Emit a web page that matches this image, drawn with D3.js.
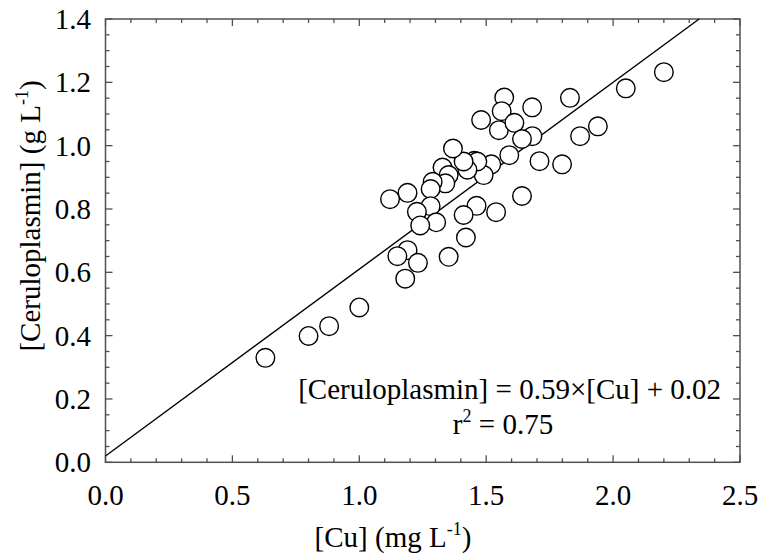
<!DOCTYPE html>
<html>
<head>
<meta charset="utf-8">
<script src="https://cdn.jsdelivr.net/npm/d3@7"></script>
<style>
  html, body { margin: 0; padding: 0; background: #fff; }
  svg { display: block; }
</style>
</head>
<body>
<svg id="chart" width="762" height="560"></svg>
<script>
// ---- data ----
const cuValues = [
  1.571, 1.681, 1.561, 1.480, 1.550, 1.611, 1.682, 1.641, 1.710, 1.591,
  1.520, 1.490, 1.453, 1.465, 1.426, 1.411, 1.369, 1.328, 1.352, 1.339,
  1.289, 1.281, 1.190, 1.121, 1.281, 1.227, 1.303, 1.240, 1.462, 1.411,
  1.539, 1.641, 1.420, 1.352, 1.190, 1.150, 1.231, 1.181, 1.000, 0.881,
  0.800, 0.630, 2.200, 2.050, 1.830, 1.940, 1.870, 1.799
];
const ceruloplasminValues = [
  1.152, 1.121, 1.109, 1.081, 1.049, 1.072, 1.030, 1.021, 0.951, 0.970,
  0.941, 0.907, 0.952, 0.950, 0.924, 0.950, 0.991, 0.931, 0.907, 0.881,
  0.886, 0.863, 0.851, 0.831, 0.809, 0.791, 0.758, 0.748, 0.810, 0.781,
  0.790, 0.841, 0.710, 0.649, 0.670, 0.651, 0.630, 0.580, 0.489, 0.430,
  0.399, 0.330, 1.232, 1.181, 1.151, 1.061, 1.030, 0.941
];
const fitSlope = 0.59;
const fitIntercept = 0.02;
const xTickLabels = ["0.0", "0.5", "1.0", "1.5", "2.0", "2.5"];
const yTickLabels = ["0.0", "0.2", "0.4", "0.6", "0.8", "1.0", "1.2", "1.4"];
const xDomain = [0, 2.5];
const yDomain = [0, 1.4];
const equationText = "[Ceruloplasmin] = 0.59\u00D7[Cu] + 0.02";
const r2Text = "= 0.75";

// ---- layout ----
const L = 105.5, R = 740, T = 19, B = 462.3;
const svg = d3.select("#chart")
  .attr("font-family", "'Liberation Serif', 'Times New Roman', Times, 'DejaVu Serif', serif");
const x = d3.scaleLinear().domain(xDomain).range([L, R]);
const y = d3.scaleLinear().domain(yDomain).range([B, T]);

const frameColor = "#505050";
const fontSize = 29;
const supSize = 18;

// frame
svg.append("rect")
  .attr("x", L).attr("y", T).attr("width", R - L).attr("height", B - T)
  .attr("fill", "none").attr("stroke", frameColor).attr("stroke-width", 1.5);

// ticks
const xMinor = d3.range(0, 26).map(i => i / 10);
const yMinor = d3.range(0, 29).map(i => i * 0.05);
const isMajX = v => Math.abs(v * 2 - Math.round(v * 2)) < 1e-6;
const isMajY = v => Math.abs(v * 5 - Math.round(v * 5)) < 1e-6;

const tg = svg.append("g").attr("stroke", frameColor).attr("stroke-width", 1.3);
xMinor.forEach(v => {
  const len = isMajX(v) ? 7 : 4;
  tg.append("line").attr("x1", x(v)).attr("x2", x(v)).attr("y1", B).attr("y2", B - len);
  tg.append("line").attr("x1", x(v)).attr("x2", x(v)).attr("y1", T).attr("y2", T + len);
});
yMinor.forEach(v => {
  const len = isMajY(v) ? 7 : 4;
  tg.append("line").attr("y1", y(v)).attr("y2", y(v)).attr("x1", L).attr("x2", L + len);
  tg.append("line").attr("y1", y(v)).attr("y2", y(v)).attr("x1", R).attr("x2", R - len);
});

// tick labels
svg.append("g").selectAll("text").data(xTickLabels).join("text")
  .attr("x", d => x(+d)).attr("y", 505)
  .attr("text-anchor", "middle").attr("font-size", fontSize)
  .text(d => d);
svg.append("g").selectAll("text").data(yTickLabels).join("text")
  .attr("x", 91).attr("y", d => y(+d) + 10)
  .attr("text-anchor", "end").attr("font-size", fontSize)
  .text(d => d);

// axis titles
const xt = svg.append("text").attr("x", 393).attr("y", 547)
  .attr("text-anchor", "middle").attr("font-size", fontSize);
xt.append("tspan").text("[Cu] (mg L");
xt.append("tspan").attr("font-size", supSize).attr("dy", -12).text("-1");
xt.append("tspan").attr("dy", 12).text(")");

const yt = svg.append("text")
  .attr("transform", "translate(40,216) rotate(-90)")
  .attr("text-anchor", "middle").attr("font-size", fontSize);
yt.append("tspan").text("[Ceruloplasmin] (g L");
yt.append("tspan").attr("font-size", supSize).attr("dy", -12).text("-1");
yt.append("tspan").attr("dy", 12).text(")");

// regression line
const xEnd = Math.min(xDomain[1], (yDomain[1] - fitIntercept) / fitSlope);
svg.append("line")
  .attr("x1", x(0)).attr("y1", y(fitIntercept))
  .attr("x2", x(xEnd)).attr("y2", y(fitSlope * xEnd + fitIntercept))
  .attr("stroke", "#000").attr("stroke-width", 1.4);

// points
const pts = cuValues.map((c, i) => ({ c, p: ceruloplasminValues[i] }));
svg.append("g").selectAll("circle").data(pts).join("circle")
  .attr("cx", d => x(d.c)).attr("cy", d => y(d.p)).attr("r", 9.3)
  .attr("fill", "#fff").attr("stroke", "#000").attr("stroke-width", 1.4);

// annotation
svg.append("text").attr("x", 721).attr("y", 399)
  .attr("text-anchor", "end").attr("font-size", fontSize)
  .text(equationText);
const r2 = svg.append("text").attr("x", 503).attr("y", 434)
  .attr("text-anchor", "middle").attr("font-size", fontSize);
r2.append("tspan").text("r");
r2.append("tspan").attr("font-size", supSize).attr("dy", -12).text("2");
r2.append("tspan").attr("dy", 12).text(" " + r2Text);
</script>
</body>
</html>
